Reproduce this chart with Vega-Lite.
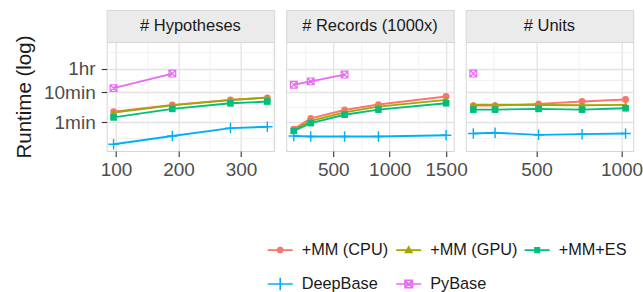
{
  "$schema": "https://vega.github.io/schema/vega-lite/v6.json",
  "background": "white",
  "padding": {"left": 13.7, "top": 9, "right": 0, "bottom": 0},
  "datasets": {
    "runs": [
      {"p": "H", "s": "+MM (CPU)", "x": 96, "t": 136},
      {"p": "H", "s": "+MM (CPU)", "x": 190, "t": 228},
      {"p": "H", "s": "+MM (CPU)", "x": 283, "t": 335},
      {"p": "H", "s": "+MM (CPU)", "x": 342, "t": 390},
      {"p": "H", "s": "+MM (GPU)", "x": 96, "t": 128},
      {"p": "H", "s": "+MM (GPU)", "x": 190, "t": 220},
      {"p": "H", "s": "+MM (GPU)", "x": 283, "t": 330},
      {"p": "H", "s": "+MM (GPU)", "x": 342, "t": 400},
      {"p": "H", "s": "+MM+ES", "x": 96, "t": 88},
      {"p": "H", "s": "+MM+ES", "x": 190, "t": 168},
      {"p": "H", "s": "+MM+ES", "x": 283, "t": 257},
      {"p": "H", "s": "+MM+ES", "x": 342, "t": 294},
      {"p": "H", "s": "DeepBase", "x": 96, "t": 11.4},
      {"p": "H", "s": "DeepBase", "x": 190, "t": 21.5},
      {"p": "H", "s": "DeepBase", "x": 283, "t": 39},
      {"p": "H", "s": "DeepBase", "x": 342, "t": 43},
      {"p": "H", "s": "PyBase", "x": 96, "t": 815},
      {"p": "H", "s": "PyBase", "x": 190, "t": 2460},
      {"p": "R", "s": "+MM (CPU)", "x": 150, "t": 36},
      {"p": "R", "s": "+MM (CPU)", "x": 300, "t": 82},
      {"p": "R", "s": "+MM (CPU)", "x": 600, "t": 155},
      {"p": "R", "s": "+MM (CPU)", "x": 900, "t": 234},
      {"p": "R", "s": "+MM (CPU)", "x": 1500, "t": 431},
      {"p": "R", "s": "+MM (GPU)", "x": 150, "t": 33.5},
      {"p": "R", "s": "+MM (GPU)", "x": 300, "t": 68},
      {"p": "R", "s": "+MM (GPU)", "x": 600, "t": 129},
      {"p": "R", "s": "+MM (GPU)", "x": 900, "t": 200},
      {"p": "R", "s": "+MM (GPU)", "x": 1500, "t": 335},
      {"p": "R", "s": "+MM+ES", "x": 150, "t": 31.6},
      {"p": "R", "s": "+MM+ES", "x": 300, "t": 57},
      {"p": "R", "s": "+MM+ES", "x": 600, "t": 108},
      {"p": "R", "s": "+MM+ES", "x": 900, "t": 159},
      {"p": "R", "s": "+MM+ES", "x": 1500, "t": 258},
      {"p": "R", "s": "DeepBase", "x": 150, "t": 21.5},
      {"p": "R", "s": "DeepBase", "x": 300, "t": 20.5},
      {"p": "R", "s": "DeepBase", "x": 600, "t": 20.5},
      {"p": "R", "s": "DeepBase", "x": 900, "t": 20.5},
      {"p": "R", "s": "DeepBase", "x": 1500, "t": 22.6},
      {"p": "R", "s": "PyBase", "x": 150, "t": 1058},
      {"p": "R", "s": "PyBase", "x": 300, "t": 1363},
      {"p": "R", "s": "PyBase", "x": 600, "t": 2280},
      {"p": "U", "s": "+MM (CPU)", "x": 128, "t": 216},
      {"p": "U", "s": "+MM (CPU)", "x": 256, "t": 216},
      {"p": "U", "s": "+MM (CPU)", "x": 512, "t": 246},
      {"p": "U", "s": "+MM (CPU)", "x": 768, "t": 295},
      {"p": "U", "s": "+MM (CPU)", "x": 1024, "t": 343},
      {"p": "U", "s": "+MM (GPU)", "x": 128, "t": 232},
      {"p": "U", "s": "+MM (GPU)", "x": 256, "t": 232},
      {"p": "U", "s": "+MM (GPU)", "x": 512, "t": 225},
      {"p": "U", "s": "+MM (GPU)", "x": 768, "t": 222},
      {"p": "U", "s": "+MM (GPU)", "x": 1024, "t": 228},
      {"p": "U", "s": "+MM+ES", "x": 128, "t": 159},
      {"p": "U", "s": "+MM+ES", "x": 256, "t": 159},
      {"p": "U", "s": "+MM+ES", "x": 512, "t": 168},
      {"p": "U", "s": "+MM+ES", "x": 768, "t": 159},
      {"p": "U", "s": "+MM+ES", "x": 1024, "t": 176},
      {"p": "U", "s": "DeepBase", "x": 128, "t": 25.8},
      {"p": "U", "s": "DeepBase", "x": 256, "t": 27.3},
      {"p": "U", "s": "DeepBase", "x": 512, "t": 23.4},
      {"p": "U", "s": "DeepBase", "x": 768, "t": 24.6},
      {"p": "U", "s": "DeepBase", "x": 1024, "t": 25.8},
      {"p": "U", "s": "PyBase", "x": 128, "t": 2460}
    ],
    "strips": [
      {"p": "H", "label": "# Hypotheses"},
      {"p": "R", "label": "# Records (1000x)"},
      {"p": "U", "label": "# Units"}
    ]
  },
  "columns": 3,
  "spacing": {"row": 0, "column": 11.5},
  "bounds": "flush",
  "concat": [
    {
      "width": 167.5, "height": 32,
      "view": {"fill": "#EBEBEB", "stroke": "#D6D6D6"},
      "data": {"name": "strips"},
      "transform": [{"filter": "datum.p == 'H'"}],
      "mark": {"type": "text", "fontSize": 16.5, "color": "#1A1A1A", "baseline": "middle", "align": "center"},
      "encoding": {"text": {"field": "label", "type": "nominal"}}
    },
    {
      "width": 167.5, "height": 32,
      "view": {"fill": "#EBEBEB", "stroke": "#D6D6D6"},
      "data": {"name": "strips"},
      "transform": [{"filter": "datum.p == 'R'"}],
      "mark": {"type": "text", "fontSize": 16.5, "color": "#1A1A1A", "baseline": "middle", "align": "center"},
      "encoding": {"text": {"field": "label", "type": "nominal"}}
    },
    {
      "width": 167.5, "height": 32,
      "view": {"fill": "#EBEBEB", "stroke": "#D6D6D6"},
      "data": {"name": "strips"},
      "transform": [{"filter": "datum.p == 'U'"}],
      "mark": {"type": "text", "fontSize": 16.5, "color": "#1A1A1A", "baseline": "middle", "align": "center"},
      "encoding": {"text": {"field": "label", "type": "nominal"}}
    },
    {
      "width": 167.5, "height": 109,
      "data": {"name": "runs"},
      "transform": [{"filter": "datum.p == 'H'"}],
      "encoding": {
        "x": {"field": "x", "type": "quantitative",
          "scale": {"domain": [85, 353], "nice": false, "zero": false},
          "axis": {"title": null, "format": "d", "values": [100, 150, 200, 250, 300, 350],
            "labelExpr": "datum.value % 100 == 0 ? datum.label : ''",
            "tickOpacity": {"condition": {"test": "datum.value % 100 == 0", "value": 1}, "value": 0},
            "gridWidth": {"condition": {"test": "datum.value % 100 == 0", "value": 1.3}, "value": 0.7},
            "gridColor": {"condition": {"test": "datum.value % 100 == 0", "value": "#E3E3E3"}, "value": "#EDEDED"},
            "labelPadding": 4.5}},
        "y": {"field": "t", "type": "quantitative",
          "scale": {"type": "log", "domain": [6.84, 27200], "nice": false},
          "axis": {"title": "Runtime (log)", "values": [19, 60, 190, 600, 1470, 3600, 12900],
            "labelExpr": "datum.value == 60 ? '1min' : datum.value == 600 ? '10min' : datum.value == 3600 ? '1hr' : ''",
            "tickOpacity": {"condition": {"test": "datum.value == 60 || datum.value == 600 || datum.value == 3600", "value": 1}, "value": 0},
            "gridWidth": {"condition": {"test": "datum.value == 60 || datum.value == 600 || datum.value == 3600", "value": 1.3}, "value": 0.7},
            "gridColor": {"condition": {"test": "datum.value == 60 || datum.value == 600 || datum.value == 3600", "value": "#E3E3E3"}, "value": "#EDEDED"},
            "labelPadding": 6, "titleFontSize": 20.5, "titleColor": "#1A1A1A", "titlePadding": 9}}
      },
      "layer": [
        {"mark": {"type": "line", "strokeWidth": 1.9},
         "encoding": {"stroke": {"field": "s", "type": "nominal", "legend": null,
           "scale": {"range": ["#F8766D", "#A3A500", "#00BF7D", "#00B0F6", "#E76BF3"]}}}},
        {"transform": [{"filter": "datum.s == '+MM (CPU)'"}],
         "mark": {"type": "point", "shape": "circle", "filled": true, "size": 46, "opacity": 1},
         "encoding": {"fill": {"field": "s", "type": "nominal", "legend": null,
           "scale": {"range": ["#F8766D", "#A3A500", "#00BF7D", "#00B0F6", "#E76BF3"]}}}},
        {"transform": [{"filter": "datum.s == '+MM (GPU)'"}],
         "mark": {"type": "point", "shape": "triangle-up", "filled": true, "size": 55, "opacity": 1},
         "encoding": {"fill": {"field": "s", "type": "nominal", "legend": null}}},
        {"transform": [{"filter": "datum.s == '+MM+ES'"}],
         "mark": {"type": "point", "shape": "square", "filled": true, "size": 44, "opacity": 1},
         "encoding": {"fill": {"field": "s", "type": "nominal", "legend": null}}},
        {"transform": [{"filter": "datum.s == 'DeepBase'"}],
         "mark": {"type": "point", "shape": "M-1,0H1M0,-1V1", "filled": false, "size": 110, "strokeWidth": 1.4, "opacity": 1},
         "encoding": {"stroke": {"field": "s", "type": "nominal", "legend": null}}},
        {"transform": [{"filter": "datum.s == 'PyBase'"}],
         "mark": {"type": "point", "shape": "M-1,-1H1V1H-1ZM-1,-1L1,1M1,-1L-1,1", "filled": false, "size": 46, "strokeWidth": 1.2, "opacity": 1},
         "encoding": {"stroke": {"field": "s", "type": "nominal", "legend": null}}},
        {"transform": [{"filter": "datum.x < 0"}],
         "mark": {"type": "point", "filled": false, "size": 625, "strokeWidth": 1.6, "opacity": 1},
         "encoding": {
           "color": {"field": "s", "type": "nominal",
             "scale": {"domain": ["+MM (CPU)", "+MM (GPU)", "+MM+ES", "DeepBase", "PyBase"], "range": ["#F8766D", "#A3A500", "#00BF7D", "#00B0F6", "#E76BF3"]},
             "legend": {"orient": "none", "legendX": 160, "legendY": 226, "direction": "horizontal", "columns": 3, "title": null,
               "symbolSize": 625, "symbolStrokeWidth": 1.6, "labelFontSize": 16.3, "labelColor": "#1A1A1A", "labelOffset": 8,
               "columnPadding": 2.5, "rowPadding": 11.5, "padding": 0, "gridAlign": "all"}},
           "shape": {"field": "s", "type": "nominal",
             "scale": {"domain": ["+MM (CPU)", "+MM (GPU)", "+MM+ES", "DeepBase", "PyBase"],
               "range": [
                 "M-1,0H1M0.2,0A0.2,0.2,0,1,1,-0.2,0A0.2,0.2,0,1,1,0.2,0M0.07,0A0.07,0.07,0,1,1,-0.07,0A0.07,0.07,0,1,1,0.07,0",
                 "M-1,0H1M0,-0.26L0.26,0.19H-0.26ZM0,-0.08L0.09,0.1H-0.09Z",
                 "M-1,0H1M-0.18,-0.18H0.18V0.18H-0.18ZM-0.05,-0.05H0.05V0.05H-0.05Z",
                 "M-1,0H1M0,-0.5V0.5",
                 "M-1,0H1M-0.3,-0.3H0.3V0.3H-0.3ZM-0.3,-0.3L0.3,0.3M0.3,-0.3L-0.3,0.3"
               ]},
             "legend": {"orient": "none", "legendX": 160, "legendY": 226, "direction": "horizontal", "columns": 3, "title": null,
               "symbolSize": 625, "symbolStrokeWidth": 1.6, "labelFontSize": 16.3, "labelColor": "#1A1A1A", "labelOffset": 8,
               "columnPadding": 2.5, "rowPadding": 11.5, "padding": 0, "gridAlign": "all"}}
         }}
      ]
    },
    {
      "width": 167.5, "height": 109,
      "data": {"name": "runs"},
      "transform": [{"filter": "datum.p == 'R'"}],
      "encoding": {
        "x": {"field": "x", "type": "quantitative",
          "scale": {"domain": [82.5, 1567.5], "nice": false, "zero": false},
          "axis": {"title": null, "format": "d", "values": [250, 500, 750, 1000, 1250, 1500],
            "labelExpr": "datum.value % 500 == 0 ? datum.label : ''",
            "tickOpacity": {"condition": {"test": "datum.value % 500 == 0", "value": 1}, "value": 0},
            "gridWidth": {"condition": {"test": "datum.value % 500 == 0", "value": 1.3}, "value": 0.7},
            "gridColor": {"condition": {"test": "datum.value % 500 == 0", "value": "#E3E3E3"}, "value": "#EDEDED"},
            "labelPadding": 4.5}},
        "y": {"field": "t", "type": "quantitative",
          "scale": {"type": "log", "domain": [6.84, 27200], "nice": false},
          "axis": {"title": null, "labels": false, "ticks": false, "values": [19, 60, 190, 600, 1470, 3600, 12900],
            "gridWidth": {"condition": {"test": "datum.value == 60 || datum.value == 600 || datum.value == 3600", "value": 1.3}, "value": 0.7},
            "gridColor": {"condition": {"test": "datum.value == 60 || datum.value == 600 || datum.value == 3600", "value": "#E3E3E3"}, "value": "#EDEDED"}}}
      },
      "layer": [
        {"mark": {"type": "line", "strokeWidth": 1.9},
         "encoding": {"stroke": {"field": "s", "type": "nominal", "legend": null}}},
        {"transform": [{"filter": "datum.s == '+MM (CPU)'"}],
         "mark": {"type": "point", "shape": "circle", "filled": true, "size": 46, "opacity": 1},
         "encoding": {"fill": {"field": "s", "type": "nominal", "legend": null}}},
        {"transform": [{"filter": "datum.s == '+MM (GPU)'"}],
         "mark": {"type": "point", "shape": "triangle-up", "filled": true, "size": 55, "opacity": 1},
         "encoding": {"fill": {"field": "s", "type": "nominal", "legend": null}}},
        {"transform": [{"filter": "datum.s == '+MM+ES'"}],
         "mark": {"type": "point", "shape": "square", "filled": true, "size": 44, "opacity": 1},
         "encoding": {"fill": {"field": "s", "type": "nominal", "legend": null}}},
        {"transform": [{"filter": "datum.s == 'DeepBase'"}],
         "mark": {"type": "point", "shape": "M-1,0H1M0,-1V1", "filled": false, "size": 110, "strokeWidth": 1.4, "opacity": 1},
         "encoding": {"stroke": {"field": "s", "type": "nominal", "legend": null}}},
        {"transform": [{"filter": "datum.s == 'PyBase'"}],
         "mark": {"type": "point", "shape": "M-1,-1H1V1H-1ZM-1,-1L1,1M1,-1L-1,1", "filled": false, "size": 46, "strokeWidth": 1.2, "opacity": 1},
         "encoding": {"stroke": {"field": "s", "type": "nominal", "legend": null}}}
      ]
    },
    {
      "width": 167.5, "height": 109,
      "data": {"name": "runs"},
      "transform": [{"filter": "datum.p == 'U'"}],
      "encoding": {
        "x": {"field": "x", "type": "quantitative",
          "scale": {"domain": [83.2, 1068.8], "nice": false, "zero": false},
          "axis": {"title": null, "format": "d", "values": [250, 500, 750, 1000],
            "labelExpr": "datum.value % 500 == 0 ? datum.label : ''",
            "tickOpacity": {"condition": {"test": "datum.value % 500 == 0", "value": 1}, "value": 0},
            "gridWidth": {"condition": {"test": "datum.value % 500 == 0", "value": 1.3}, "value": 0.7},
            "gridColor": {"condition": {"test": "datum.value % 500 == 0", "value": "#E3E3E3"}, "value": "#EDEDED"},
            "labelPadding": 4.5}},
        "y": {"field": "t", "type": "quantitative",
          "scale": {"type": "log", "domain": [6.84, 27200], "nice": false},
          "axis": {"title": null, "labels": false, "ticks": false, "values": [19, 60, 190, 600, 1470, 3600, 12900],
            "gridWidth": {"condition": {"test": "datum.value == 60 || datum.value == 600 || datum.value == 3600", "value": 1.3}, "value": 0.7},
            "gridColor": {"condition": {"test": "datum.value == 60 || datum.value == 600 || datum.value == 3600", "value": "#E3E3E3"}, "value": "#EDEDED"}}}
      },
      "layer": [
        {"mark": {"type": "line", "strokeWidth": 1.9},
         "encoding": {"stroke": {"field": "s", "type": "nominal", "legend": null}}},
        {"transform": [{"filter": "datum.s == '+MM (CPU)'"}],
         "mark": {"type": "point", "shape": "circle", "filled": true, "size": 46, "opacity": 1},
         "encoding": {"fill": {"field": "s", "type": "nominal", "legend": null}}},
        {"transform": [{"filter": "datum.s == '+MM (GPU)'"}],
         "mark": {"type": "point", "shape": "triangle-up", "filled": true, "size": 55, "opacity": 1},
         "encoding": {"fill": {"field": "s", "type": "nominal", "legend": null}}},
        {"transform": [{"filter": "datum.s == '+MM+ES'"}],
         "mark": {"type": "point", "shape": "square", "filled": true, "size": 44, "opacity": 1},
         "encoding": {"fill": {"field": "s", "type": "nominal", "legend": null}}},
        {"transform": [{"filter": "datum.s == 'DeepBase'"}],
         "mark": {"type": "point", "shape": "M-1,0H1M0,-1V1", "filled": false, "size": 110, "strokeWidth": 1.4, "opacity": 1},
         "encoding": {"stroke": {"field": "s", "type": "nominal", "legend": null}}},
        {"transform": [{"filter": "datum.s == 'PyBase'"}],
         "mark": {"type": "point", "shape": "M-1,-1H1V1H-1ZM-1,-1L1,1M1,-1L-1,1", "filled": false, "size": 46, "strokeWidth": 1.2, "opacity": 1},
         "encoding": {"stroke": {"field": "s", "type": "nominal", "legend": null}}}
      ]
    }
  ],
  "config": {
    "font": "Liberation Sans",
    "view": {"stroke": "#D6D6D6", "strokeWidth": 1},
    "axis": {"labelFontSize": 19, "labelColor": "#4D4D4D", "tickColor": "#333333", "tickWidth": 1.1, "tickSize": 5.5,
      "domain": false, "labelOverlap": false, "titleFontWeight": "normal", "labelFont": "Liberation Sans", "titleFont": "Liberation Sans"},
    "legend": {"labelFont": "Liberation Sans"}
  }
}
